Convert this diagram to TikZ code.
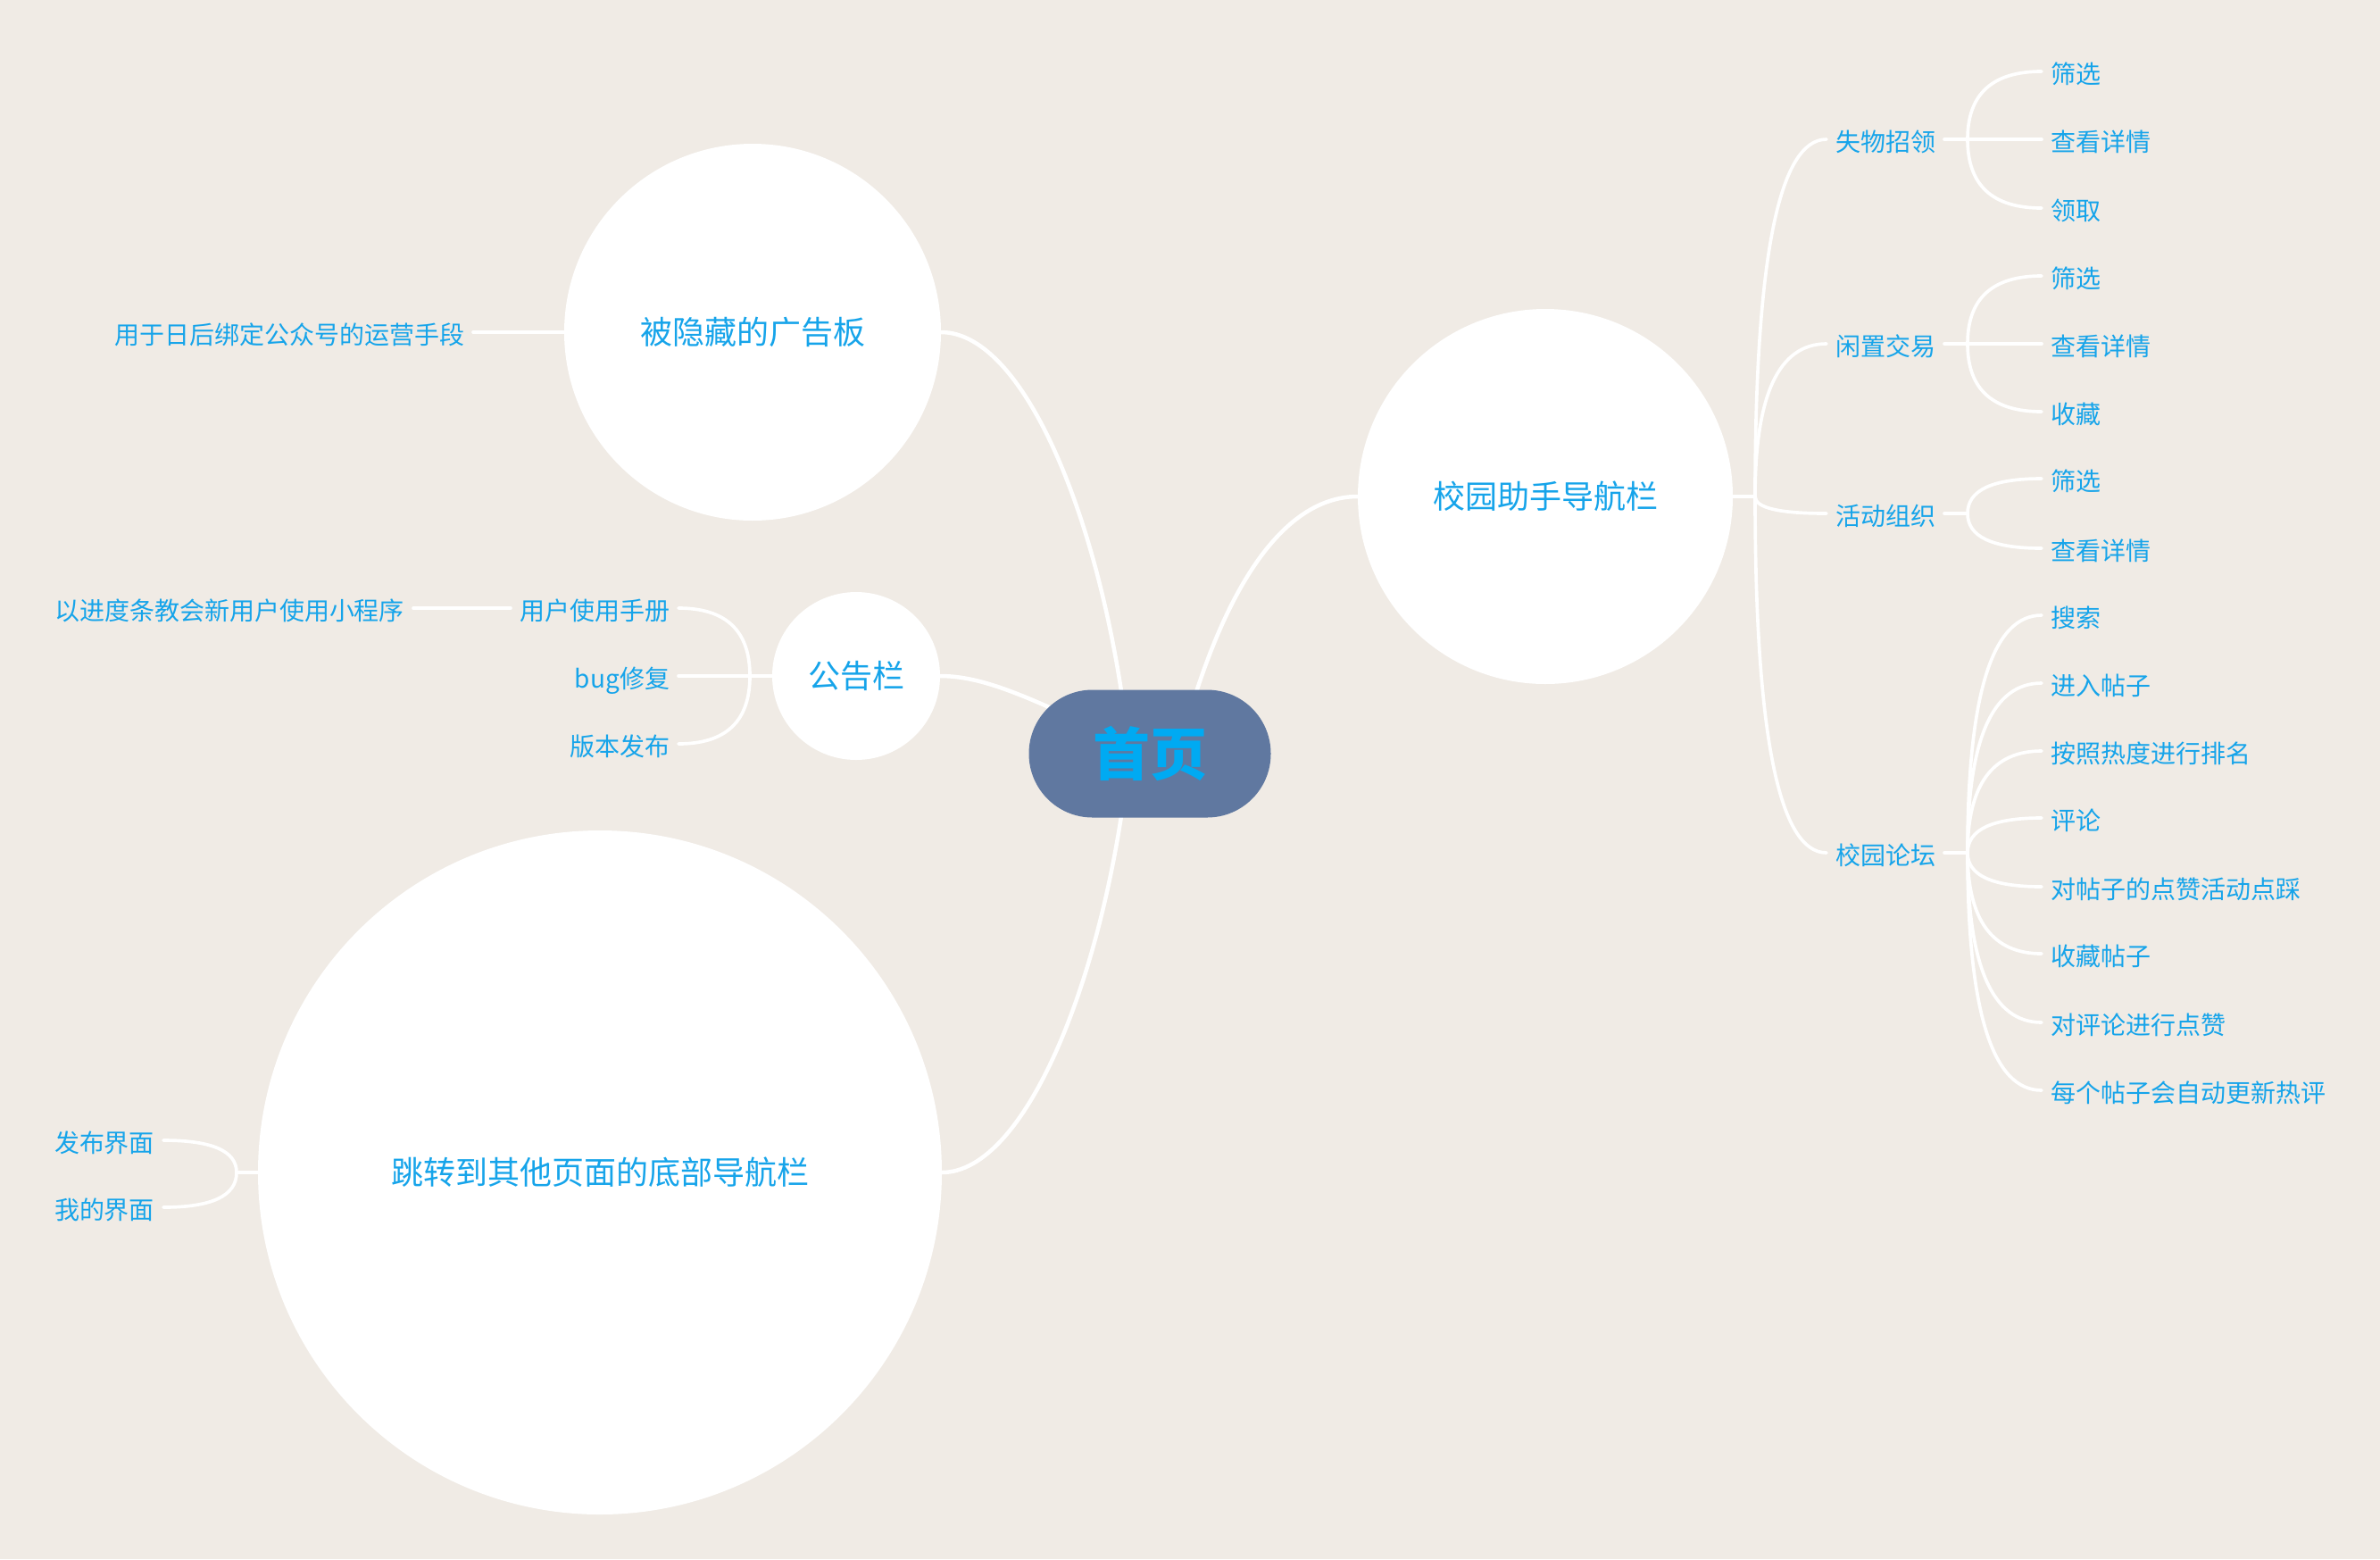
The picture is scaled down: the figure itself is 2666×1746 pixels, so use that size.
\documentclass[tikz,border=0pt]{standalone}
\usepackage{fontspec}
\setmainfont{Noto Sans CJK SC}
\usetikzlibrary{calc}
\definecolor{bgc}{RGB}{240,235,229}
\definecolor{txt}{RGB}{22,164,234}
\definecolor{roottxt}{RGB}{0,170,242}
\definecolor{rootfill}{RGB}{96,120,160}
\pgfdeclarelayer{bglayer}
\pgfdeclarelayer{lines}
\pgfsetlayers{bglayer,lines,main}
\tikzset{
  leaf/.style={text=txt, inner xsep=3pt, inner ysep=0pt, outer sep=0pt, text height=0.86em, text depth=0.08em, font=\fontsize{8.4pt}{10pt}\selectfont},
  bubble/.style={circle, fill=white, inner sep=0pt, outer sep=0pt, text=txt, font=\fontsize{10.8pt}{13pt}\selectfont},
  conn/.style={draw=white, line width=1.1pt, line cap=round},
  mainconn/.style={draw=white, line width=1.35pt, line cap=round},
}
\newcommand\qlink[2]{\draw[conn] (#1) .. controls ($(#1)!0.6667!(#1|-#2)$) and ($(#2)!0.6667!(#1|-#2)$) .. (#2);}
\begin{document}
\begin{tikzpicture}[x=0.3pt,y=-0.3pt]
\begin{pgfonlayer}{bglayer}
\fill[bgc] (0,0) rectangle (2666,1746);
\end{pgfonlayer}
\useasboundingbox (0,0) rectangle (2666,1746);

% root
\node[rectangle, rounded corners=21.4pt, fill=rootfill, minimum width=81.3pt, minimum height=42.9pt, inner sep=0pt, text=roottxt, font=\fontsize{19.2pt}{22pt}\selectfont\bfseries] (root) at (1288,844) {首页};

% main bubbles
\node[bubble, minimum size=126.6pt] (c1) at (843,372) {被隐藏的广告板};
\node[bubble, minimum size=56.4pt] (c2) at (959,757) {公告栏};
\node[bubble, minimum size=126pt] (c3) at (1731,556) {校园助手导航栏};
\node[bubble, minimum size=229.8pt] (c4) at (672,1313) {跳转到其他页面的底部导航栏};

\coordinate (rootL) at ($(root.center)+(-23,0)$);
\coordinate (rootR) at ($(root.center)+(32,0)$);

% right side level 2
\node[leaf, anchor=west] (a1) at (2046,156) {失物招领};
\node[leaf, anchor=west] (a2) at (2046,385) {闲置交易};
\node[leaf, anchor=west] (a3) at (2046,575) {活动组织};
\node[leaf, anchor=west] (a4) at (2046,955) {校园论坛};

% level 3
\node[leaf, anchor=west] (a11) at (2287,80) {筛选};
\node[leaf, anchor=west] (a12) at (2287,156) {查看详情};
\node[leaf, anchor=west] (a13) at (2287,233) {领取};
\node[leaf, anchor=west] (a21) at (2287,309) {筛选};
\node[leaf, anchor=west] (a22) at (2287,385) {查看详情};
\node[leaf, anchor=west] (a23) at (2287,461) {收藏};
\node[leaf, anchor=west] (a31) at (2287,536) {筛选};
\node[leaf, anchor=west] (a32) at (2287,614) {查看详情};
\node[leaf, anchor=west] (a41) at (2287,689) {搜索};
\node[leaf, anchor=west] (a42) at (2287,765) {进入帖子};
\node[leaf, anchor=west] (a43) at (2287,841) {按照热度进行排名};
\node[leaf, anchor=west] (a44) at (2287,916) {评论};
\node[leaf, anchor=west] (a45) at (2287,993) {对帖子的点赞活动点踩};
\node[leaf, anchor=west] (a46) at (2287,1068) {收藏帖子};
\node[leaf, anchor=west] (a47) at (2287,1145) {对评论进行点赞};
\node[leaf, anchor=west] (a48) at (2287,1221) {每个帖子会自动更新热评};

% left side
\node[leaf, anchor=east] (b1) at (530,372) {用于日后绑定公众号的运营手段};
\node[leaf, anchor=east] (d1) at (760,681) {用户使用手册};
\node[leaf, anchor=east] (d2) at (760,757) {bug修复};
\node[leaf, anchor=east] (d3) at (760,833) {版本发布};
\node[leaf, anchor=east] (d0) at (463,681) {以进度条教会新用户使用小程序};
\node[leaf, anchor=east] (e1) at (183,1277) {发布界面};
\node[leaf, anchor=east] (e2) at (183,1352) {我的界面};

% junctions
\coordinate (J1) at ($(c3.east)+(25,0)$);
\coordinate (J2) at ($(c2.west)+(-25,0)$);
\coordinate (J3) at ($(c4.west)+(-24,0)$);
\coordinate (Ja1) at ($(a1.east)+(26,0)$);
\coordinate (Ja2) at ($(a2.east)+(26,0)$);
\coordinate (Ja3) at ($(a3.east)+(26,0)$);
\coordinate (Ja4) at ($(a4.east)+(26,0)$);

\begin{pgfonlayer}{lines}
% main connectors
\draw[mainconn] (c1.east) .. controls +(97,0) and +(-25,-244) .. (rootL);
\draw[mainconn] (c4.east) .. controls +(95,0) and +(-25,244) .. (rootL);
\draw[mainconn] (c3.west) .. controls +(-80,0) and +(50,-194) .. (rootR);
\draw[mainconn] (c2.east) .. controls +(57,0) and +(-118,-54) .. (root.center);

% right tree
\draw[conn] (c3.east) -- (J1);
\qlink{J1}{a1.west}
\qlink{J1}{a2.west}
\qlink{J1}{a3.west}
\qlink{J1}{a4.west}
\draw[conn] (a1.east) -- (Ja1);
\draw[conn] (a2.east) -- (Ja2);
\draw[conn] (a3.east) -- (Ja3);
\draw[conn] (a4.east) -- (Ja4);
\qlink{Ja1}{a11.west}
\draw[conn] (Ja1) -- (a12.west);
\qlink{Ja1}{a13.west}
\qlink{Ja2}{a21.west}
\draw[conn] (Ja2) -- (a22.west);
\qlink{Ja2}{a23.west}
\qlink{Ja3}{a31.west}
\qlink{Ja3}{a32.west}
\qlink{Ja4}{a41.west}
\qlink{Ja4}{a42.west}
\qlink{Ja4}{a43.west}
\qlink{Ja4}{a44.west}
\qlink{Ja4}{a45.west}
\qlink{Ja4}{a46.west}
\qlink{Ja4}{a47.west}
\qlink{Ja4}{a48.west}

% left trees
\draw[conn] (c1.west) -- (b1.east);
\draw[conn] (c2.west) -- (J2);
\qlink{J2}{d1.east}
\draw[conn] (J2) -- (d2.east);
\qlink{J2}{d3.east}
\draw[conn] (d1.west) -- (d0.east);
\draw[conn] (c4.west) -- (J3);
\qlink{J3}{e1.east}
\qlink{J3}{e2.east}
\end{pgfonlayer}
\end{tikzpicture}
\end{document}
